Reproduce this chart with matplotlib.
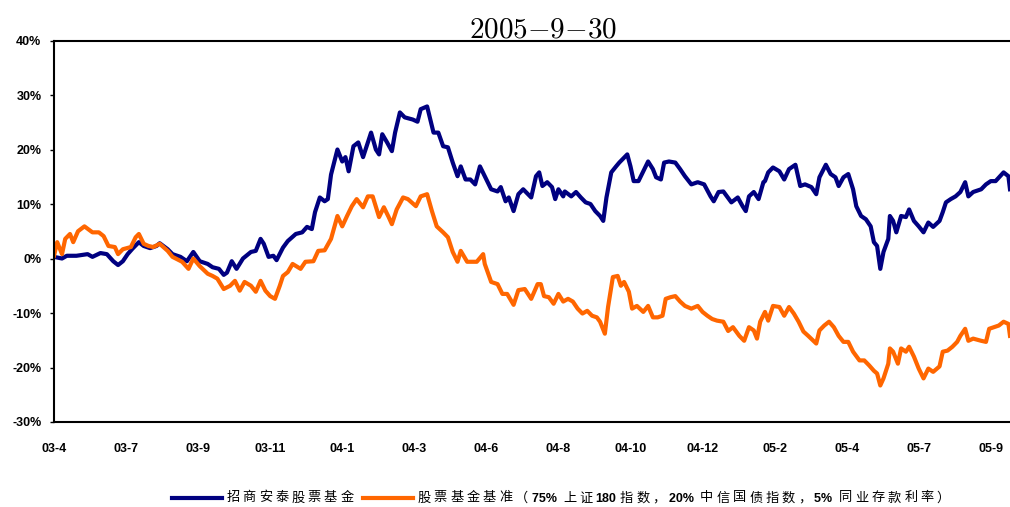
import numpy as np
import matplotlib
matplotlib.use("Agg")
from matplotlib import pyplot as plt
from matplotlib.lines import Line2D
from matplotlib.offsetbox import AnchoredOffsetbox, DrawingArea, HPacker, TextArea

# trading-day index (0 = start of 2003-4) and cumulative return in %
fund_day = [0, 5, 8, 14, 21, 24, 29, 33, 37, 40, 43, 46, 49, 53, 56, 60, 64, 66, 71, 74,
            79, 83, 87, 91, 96, 99, 103, 106, 108, 111, 114, 118, 123, 126, 129, 131, 134, 137, 139, 143,
            146, 151, 155, 158, 161, 163, 166, 169, 171, 173, 177, 180, 182, 184, 187, 190, 193, 198, 201, 203,
            205, 208, 211, 213, 216, 219, 224, 227, 229, 233, 235, 237, 240, 243, 246, 249, 252, 254, 257, 260,
            263, 266, 269, 273, 277, 279, 282, 284, 287, 290, 293, 298, 301, 303, 305, 308, 311, 313, 315, 318,
            319, 323, 326, 329, 332, 335, 338, 341, 343, 345, 348, 351, 353, 355, 358, 360, 362, 365, 368, 371,
            374, 376, 379, 381, 384, 388, 391, 394, 398, 402, 406, 410, 412, 415, 418, 423, 427, 430, 432, 434,
            437, 440, 443, 444, 446, 449, 453, 456, 459, 463, 466, 469, 473, 476, 478, 482, 485, 488, 490, 493,
            496, 499, 501, 504, 507, 510, 512, 514, 516, 518, 521, 522, 524, 526, 529, 532, 534, 537, 540, 543,
            546, 549, 553, 555, 557, 560, 563, 566, 569, 571, 574, 579, 582, 585, 588, 593, 596, 597]
fund_ret = [0.3, 0.0, 0.5, 0.5, 0.8, 0.3, 1.0, 0.8, -0.5, -1.2, -0.5, 0.8, 1.8, 3.0, 2.3, 1.9, 2.3, 2.8, 1.7, 0.8,
            0.3, -0.5, 1.2, -0.5, -1.0, -1.6, -1.9, -3.0, -2.6, -0.5, -1.9, 0.0, 1.2, 1.4, 3.6, 2.7, 0.3, 0.5, -0.3, 2.0,
            3.2, 4.5, 4.8, 5.8, 5.4, 8.5, 11.2, 10.5, 10.9, 15.4, 20.0, 17.8, 18.6, 16.0, 20.6, 21.3, 18.6, 23.1, 20.0, 19.1,
            22.8, 21.3, 19.7, 23.1, 26.8, 25.9, 25.5, 25.1, 27.4, 27.9, 25.5, 23.1, 23.1, 20.6, 20.4, 17.6, 15.1, 16.9, 14.5, 14.5,
            13.6, 16.9, 15.1, 12.7, 12.3, 13.1, 10.5, 11.2, 8.7, 11.8, 12.7, 11.2, 15.1, 15.8, 13.3, 14.0, 13.1, 10.9, 12.7, 11.4,
            12.3, 11.4, 12.2, 11.2, 10.3, 10.0, 8.7, 7.8, 6.9, 11.2, 15.8, 16.9, 17.6, 18.2, 19.1, 16.9, 14.2, 14.2, 16.0, 17.8,
            16.4, 14.9, 14.5, 17.6, 17.8, 17.6, 16.4, 15.1, 13.6, 14.0, 13.6, 11.4, 10.5, 12.2, 12.3, 10.3, 11.2, 9.6, 8.7, 11.4,
            12.2, 10.9, 14.0, 14.2, 15.8, 16.7, 16.0, 14.5, 16.4, 17.2, 13.3, 13.6, 13.1, 11.8, 14.9, 17.2, 15.5, 14.9, 13.3, 14.9,
            15.5, 12.7, 9.6, 7.8, 7.2, 5.9, 3.0, 2.3, -1.9, 1.2, 3.6, 7.8, 6.9, 4.8, 7.8, 7.6, 9.0, 6.9, 5.9, 4.8,
            6.6, 5.8, 6.9, 8.5, 10.3, 10.9, 11.4, 12.2, 14.0, 11.4, 12.2, 12.7, 13.6, 14.2, 14.2, 15.8, 15.1, 12.7]

bench_day = [0, 2, 5, 7, 10, 12, 15, 19, 24, 28, 31, 34, 38, 40, 43, 48, 51, 53, 56, 59,
             62, 66, 71, 74, 80, 84, 87, 91, 96, 99, 102, 106, 110, 113, 116, 119, 123, 126, 129, 132,
             135, 138, 141, 143, 146, 149, 154, 157, 162, 165, 169, 173, 177, 180, 183, 186, 189, 193, 196, 199,
             203, 206, 209, 211, 214, 218, 221, 226, 229, 233, 236, 239, 243, 246, 249, 252, 254, 258, 261, 264,
             268, 269, 273, 277, 280, 283, 287, 290, 294, 298, 302, 304, 306, 309, 312, 315, 318, 321, 324, 327,
             330, 333, 336, 339, 341, 344, 346, 349, 352, 354, 356, 359, 361, 364, 368, 371, 374, 377, 380, 382,
             385, 388, 391, 394, 398, 402, 405, 408, 411, 414, 418, 421, 424, 428, 431, 434, 437, 439, 441, 444,
             446, 449, 453, 456, 459, 462, 465, 468, 471, 476, 478, 481, 484, 487, 490, 493, 496, 499, 503, 506,
             509, 512, 514, 516, 518, 521, 522, 524, 527, 529, 532, 534, 537, 540, 543, 546, 549, 553, 555, 558,
             561, 564, 566, 569, 571, 574, 579, 582, 584, 587, 590, 593, 596, 597]
bench_ret = [0.5, 3.0, 0.8, 3.6, 4.5, 3.0, 5.0, 5.9, 4.8, 4.8, 4.1, 2.3, 2.1, 0.8, 1.7, 2.1, 3.9, 4.5, 2.7, 2.3,
             2.1, 2.7, 1.4, 0.3, -0.6, -1.9, 0.0, -1.4, -2.8, -3.2, -3.7, -5.6, -5.0, -4.1, -5.9, -4.3, -5.0, -6.1, -4.1, -5.9,
             -6.9, -7.4, -5.0, -3.2, -2.5, -1.0, -1.9, -0.6, -0.5, 1.4, 1.5, 3.6, 7.8, 5.9, 7.8, 9.6, 10.9, 9.4, 11.4, 11.4,
             7.6, 9.4, 7.6, 6.3, 9.0, 11.2, 10.9, 9.6, 11.4, 11.8, 8.7, 5.9, 4.8, 3.9, 1.2, -0.6, 1.4, -0.6, -0.6, -0.6,
             0.8, -1.0, -4.3, -4.7, -6.5, -6.5, -8.5, -5.8, -5.6, -7.4, -4.7, -4.7, -6.9, -7.1, -8.3, -6.5, -7.9, -7.4, -7.9, -9.2,
             -10.1, -9.6, -10.5, -10.8, -11.6, -13.8, -8.9, -3.4, -3.2, -5.0, -4.3, -6.1, -9.2, -8.7, -9.8, -8.7, -10.8, -10.8, -10.5, -7.4,
             -7.1, -6.9, -7.9, -8.7, -9.2, -8.7, -9.8, -10.5, -11.1, -11.4, -11.6, -13.3, -12.6, -14.2, -15.1, -12.6, -13.2, -14.7, -11.6, -9.8,
             -11.4, -8.7, -8.9, -10.5, -8.9, -10.1, -11.6, -13.4, -14.2, -15.6, -13.2, -12.3, -11.6, -12.6, -14.2, -15.3, -15.3, -17.1, -18.7, -18.7,
             -19.6, -20.6, -21.1, -23.3, -22.0, -19.3, -16.5, -17.1, -19.3, -16.5, -17.1, -16.2, -18.0, -20.2, -22.0, -20.2, -20.8, -19.8, -17.1, -16.9,
             -16.2, -15.3, -14.2, -12.9, -15.1, -14.7, -15.1, -15.3, -12.9, -12.6, -12.3, -11.6, -12.0, -14.2]

tick_labels = ["03-4", "03-7", "03-9", "03-11", "04-1", "04-3", "04-6",
               "04-8", "04-10", "04-12", "05-2", "05-4", "05-7", "05-9"]
tick_step = 45

fund_name = "招商安泰股票基金"
bench_parts = [("股票基金基准（", False), ("75% ", True), ("上证", False), ("180", True),
               ("指数，", False), ("20% ", True), ("中信国债指数，", False), ("5% ", True),
               ("同业存款利率）", False)]

navy = "#000080"
orange = "#FF6600"

fig = plt.figure(figsize=(10.1, 5.07), dpi=100)
ax = fig.add_axes([54 / 1010, 85 / 507, 956 / 1010, 381.5 / 507])

ax.plot(fund_day, fund_ret, color=navy, lw=3, solid_joinstyle="round")
ax.plot(bench_day, bench_ret, color=orange, lw=3, solid_joinstyle="round")

ax.set_xlim(0, 597)
ax.set_ylim(-30, 40)
ax.set_yticks(range(-30, 41, 10))
ax.set_yticklabels([f"{v}%" for v in range(-30, 41, 10)])
ax.set_xticks([i * tick_step for i in range(len(tick_labels))])
ax.set_xticklabels(tick_labels)

for lab in ax.get_xticklabels() + ax.get_yticklabels():
    lab.set_fontfamily("Liberation Sans")
    lab.set_fontweight("bold")
    lab.set_fontsize(9)
ax.tick_params(axis="y", direction="out", length=3, width=1, pad=6)
ax.tick_params(axis="x", length=0, pad=15)

for side in ["top", "left", "bottom"]:
    ax.spines[side].set_linewidth(1.5)
ax.spines["right"].set_visible(False)

fig.text(543 / 1010, 1 - 37 / 507, r"$2005{-}9{-}30$", fontsize=21,
         math_fontfamily="cm", ha="center", va="baseline")


# hand-built legend, CJK glyphs spaced out like the original
def key(color):
    da = DrawingArea(36, 8, 0, 0)
    da.add_artist(Line2D([0, 36], [4, 4], color=color, lw=3))
    return da


def chars(text, bold=False):
    if bold:
        return [TextArea(text, textprops=dict(fontsize=9, fontweight="bold",
                                              family="Liberation Sans"))]
    return [TextArea(c, textprops=dict(fontsize=9.5, family="Noto Sans CJK SC")) for c in text]


fund_items = chars(fund_name)
bench_items = []
for txt, bold in bench_parts:
    bench_items += chars(txt, bold)

entry1 = HPacker(children=[key(navy), HPacker(children=fund_items, sep=2.2, align="baseline")],
                 sep=3, align="center")
entry2 = HPacker(children=[key(orange), HPacker(children=bench_items, sep=2.2, align="baseline")],
                 sep=3, align="center")
legend_box = HPacker(children=[entry1, entry2], sep=7, align="center")
anchored = AnchoredOffsetbox(loc="center left", child=legend_box, pad=0, borderpad=0, frameon=False,
                             bbox_to_anchor=(172 / 1010, 1 - 498 / 507), bbox_transform=fig.transFigure)
fig.add_artist(anchored)

fig.savefig("out.png", dpi=100)
